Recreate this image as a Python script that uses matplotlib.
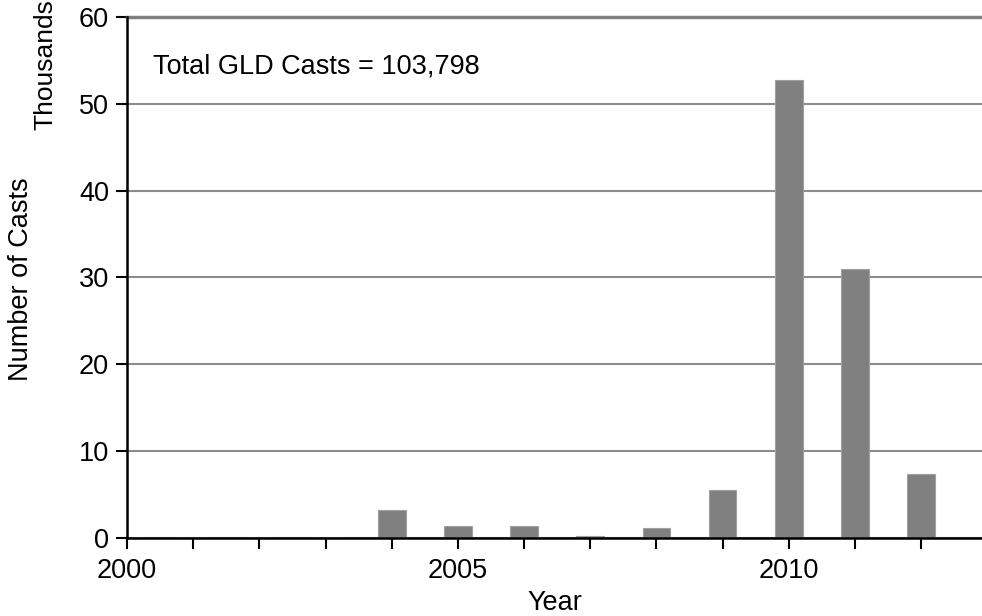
import matplotlib
matplotlib.use("Agg")
import matplotlib.pyplot as plt

plt.rcParams['font.family'] = ['Liberation Sans', 'DejaVu Sans']

years = [2000, 2001, 2002, 2003, 2004, 2005, 2006, 2007, 2008, 2009, 2010, 2011, 2012]
casts_k = [0, 0, 0, 0, 3.2, 1.35, 1.35, 0.15, 1.1, 5.5, 52.7, 31.0, 7.3]
major_years = [2000, 2005, 2010]
note = "Total GLD Casts = 103,798"

fig = plt.figure(figsize=(9.82, 6.16), dpi=100)
ax = fig.add_axes([0.1293, 0.1274, 0.8707, 0.845])

ax.bar(years, casts_k, width=0.42, color='#808080', edgecolor='#a0a0a0', linewidth=0.8, zorder=3)

ax.set_xlim(2000, 2012.92)
ax.set_ylim(0, 60)
ax.set_yticks(range(0, 61, 10))
ax.set_xticks(major_years)
ax.set_xticks(years, minor=True)
ax.yaxis.grid(True, color='#8c8c8c', linewidth=1.5, zorder=0)
ax.axhline(60, color='#808080', linewidth=2.5, clip_on=False, zorder=2)

for s in ['top', 'right']:
    ax.spines[s].set_visible(False)
for s in ['left', 'bottom']:
    ax.spines[s].set_linewidth(1.8)
    ax.spines[s].set_color('black')
    ax.spines[s].set_zorder(4)

ax.tick_params(axis='both', which='both', direction='out', length=8, width=1.5, labelsize=19.5)
ax.tick_params(axis='x', which='both', pad=7)
ax.tick_params(axis='y', pad=5)

ax.set_xlabel("Year", fontsize=19.5)
ax.xaxis.set_label_coords(0.5, -0.1)
fig.text(0.021, 0.547, "Number of Casts", rotation=90, fontsize=19.5, ha='center', va='center')
fig.text(0.046, 0.896, "Thousands", rotation=90, fontsize=19, ha='center', va='center')
ax.text(0.03, 0.905, note, transform=ax.transAxes, fontsize=19.5, ha='left', va='center')

fig.savefig("out.png", dpi=100)
